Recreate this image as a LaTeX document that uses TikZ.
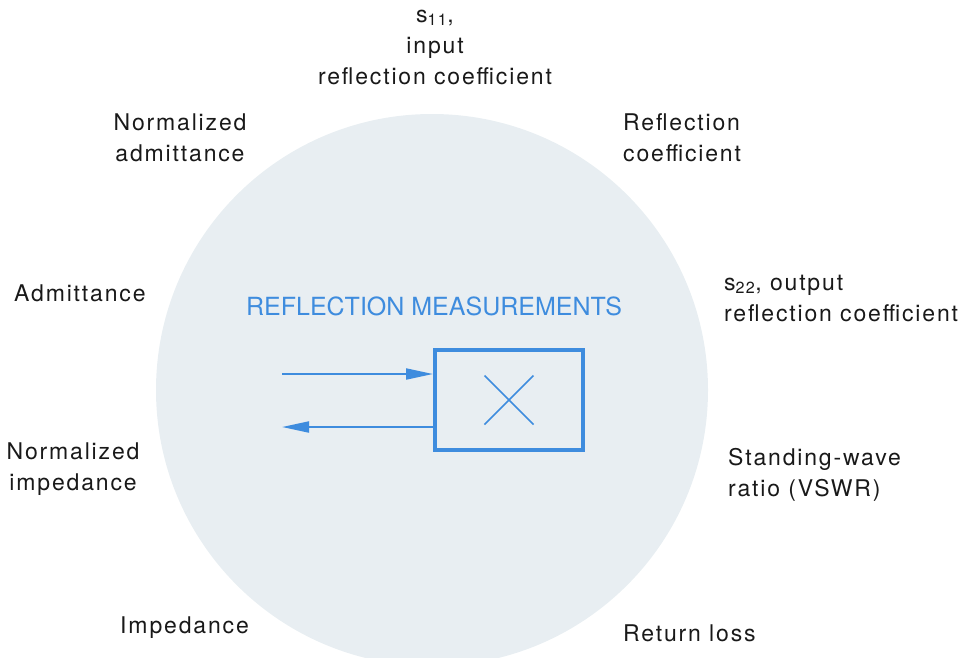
\documentclass[tikz,border=0pt]{standalone}
\usepackage{fontspec}
\setmainfont{TeX Gyre Heros}
\newfontfamily\lblfont[LetterSpace=8]{TeX Gyre Heros}
\usetikzlibrary{arrows.meta}
\definecolor{disc}{RGB}{232,238,242}
\definecolor{hpblue}{RGB}{62,140,222}
\tikzset{
  lbl/.style={font=\lblfont\fontsize{23}{31}\selectfont, text=black!90, inner sep=0pt},
  lblL/.style={lbl, align=left, anchor=west},
  lblC/.style={lbl, align=center},
  title/.style={font=\fontsize{25}{30}\selectfont, text=hpblue, inner sep=0pt},
  bluearrow/.style={draw=hpblue, line width=2pt, -{Triangle[length=27pt,width=11pt]}},
  dutbox/.style={draw=hpblue, line width=4pt, minimum width=148pt, minimum height=100pt, inner sep=0pt},
}
\begin{document}
\begin{tikzpicture}[x=1pt,y=-1pt]
\useasboundingbox (0,0) rectangle (963,657);
\begin{scope}
  \clip (0,0) rectangle (963,657);
  \fill[disc] (432,390) circle[radius=276];
\end{scope}

\node[title] (ttl) at (434,306) {REFLECTION MEASUREMENTS};

\node[dutbox] (box) at (509,400) {};
\draw[hpblue, line width=1.5pt] ([shift={(-24.5,-24.5)}]box.center) -- ([shift={(24.5,24.5)}]box.center);
\draw[hpblue, line width=1.5pt] ([shift={(-24.5,24.5)}]box.center) -- ([shift={(24.5,-24.5)}]box.center);

\coordinate (inS) at (282,374);
\coordinate (outE) at (282,427);
\draw[bluearrow] (inS) -- (inS -| box.west);
\draw[bluearrow] (outE -| box.west) -- (outE);

\node[lblC] (s11) at (435,47) {s\textsubscript{11},\\input\\reflection coefficient};
\node[lblC] (nadm) at (180,138) {Normalized\\admittance};
\node[lblL] (refl) at (623,138) {Reflection\\coefficient};
\node[lblL] (adm) at (14,293) {Admittance};
\node[lblL] (s22) at (724,298) {s\textsubscript{22}, output\\reflection coefficient};
\node[lblC] (nimp) at (73,469) {Normalized\\impedance};
\node[lblL] (swr) at (728,475) {Standing-wave\\ratio (VSWR)};
\node[lblL] (imp) at (120,628) {Impedance};
\node[lblL] (rl) at (623,633) {Return loss};
\end{tikzpicture}
\end{document}
